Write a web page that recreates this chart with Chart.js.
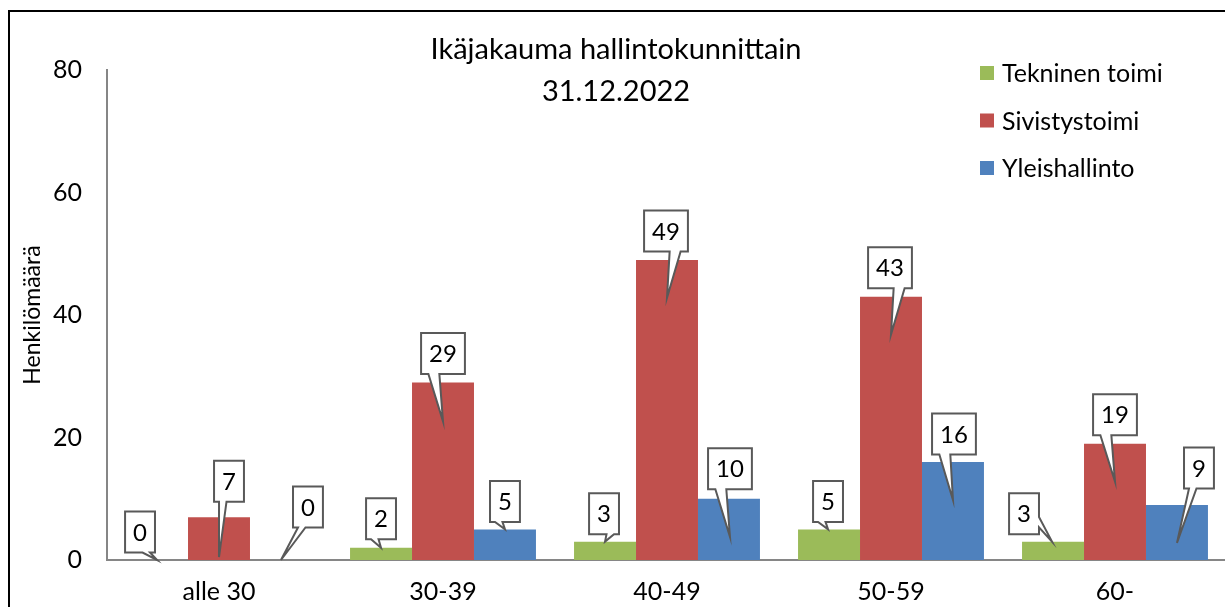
<!DOCTYPE html>
<html>
<head>
<meta charset="utf-8">
<script src="https://cdn.jsdelivr.net/npm/chart.js@4.4.1/dist/chart.umd.min.js"></script>
<style>
  html, body { margin: 0; padding: 0; background: #fff; overflow: hidden; }
  #wrap { position: absolute; left: 0; top: 0; width: 1250px; height: 640px; }
</style>
</head>
<body>
<div id="wrap"><canvas id="kaavio" width="1250" height="640"></canvas></div>
<script>
// Aineisto
const ikaryhmat = ['alle 30', '30-39', '40-49', '50-59', '60-'];
const tekninen = [0, 2, 3, 5, 3];
const sivistys = [7, 29, 49, 43, 19];
const yleishallinto = [0, 5, 10, 16, 9];
const sarjaNimet = ['Tekninen toimi', 'Sivistystoimi', 'Yleishallinto'];
const yAkseliTicks = [0, 20, 40, 60, 80];
const otsikko = ['Ikäjakauma hallintokunnittain', '31.12.2022'];

const varit = ['#9BBB59', '#C0504D', '#4F81BD'];
const fontti = 'Lato, "Open Sans", sans-serif';

// puhekuplien sijoittelu pylvään yläreunan keskeltä: [laatikko dx, dy, kärki dx, dy]
const kuplat = [
    [[-17, -28, 0, 0], [0, -29, 0, 0], [-1, -28, 0, 0], [-1, -28, -1, 0], [-29, -28, -1, 0]],
    [[10, -36, 0, 40], [0, -29, 0, 39], [-1, -29, 0, 38], [-1, -29, 0, 38], [0, -29, 0, 38]],
    [[27, -53, 0, 0], [0, -28, 0, 0], [1, -30, 1, 38], [1, -28, 0, 38], [22, -37, 0, 38]]
];

// Excelin wedgeRectCallout -muoto
function piirraKupla(ctx, cx, cy, w, h, tx, ty) {
    const l = cx - w / 2, r = cx + w / 2, t = cy - h / 2, b = cy + h / 2;
    const dxPos = tx - cx, dyPos = ty - cy;
    const dq = dxPos * h / w;
    const pysty = Math.abs(dyPos) - Math.abs(dq) > 0;
    const x1 = l + w * (dxPos > 0 ? 7 : 2) / 12;
    const x2 = l + w * (dxPos > 0 ? 10 : 5) / 12;
    const y1 = t + h * (dyPos > 0 ? 7 : 2) / 12;
    const y2 = t + h * (dyPos > 0 ? 10 : 5) / 12;
    ctx.beginPath();
    ctx.moveTo(l, t);
    if (pysty && dyPos < 0) { ctx.lineTo(x1, t); ctx.lineTo(tx, ty); ctx.lineTo(x2, t); }
    ctx.lineTo(r, t);
    if (!pysty && dxPos > 0) { ctx.lineTo(r, y1); ctx.lineTo(tx, ty); ctx.lineTo(r, y2); }
    ctx.lineTo(r, b);
    if (pysty && dyPos > 0) { ctx.lineTo(x2, b); ctx.lineTo(tx, ty); ctx.lineTo(x1, b); }
    ctx.lineTo(l, b);
    if (!pysty && dxPos < 0) { ctx.lineTo(l, y2); ctx.lineTo(tx, ty); ctx.lineTo(l, y1); }
    ctx.closePath();
    ctx.fillStyle = '#ffffff';
    ctx.fill();
    ctx.lineWidth = 2;
    ctx.strokeStyle = '#595959';
    ctx.stroke();
}

const kuplaPlugin = {
    id: 'kuplat',
    afterDatasetsDraw(chart) {
        const ctx = chart.ctx;
        ctx.save();
        ctx.font = '24px ' + fontti;
        chart.data.datasets.forEach((ds, i) => {
            const meta = chart.getDatasetMeta(i);
            meta.data.forEach((bar, j) => {
                const o = kuplat[i][j];
                const teksti = String(ds.data[j]);
                const w = ctx.measureText(teksti).width + 16;
                const h = 41;
                const cx = bar.x + o[0], cy = bar.y + o[1];
                piirraKupla(ctx, cx, cy, w, h, bar.x + o[2], bar.y + o[3]);
                ctx.fillStyle = '#000';
                ctx.textAlign = 'center';
                ctx.textBaseline = 'middle';
                ctx.fillText(teksti, cx, cy + 1);
            });
        });
        ctx.restore();
    }
};

const kehysPlugin = {
    id: 'kehys',
    afterDraw(chart) {
        const ctx = chart.ctx;
        ctx.save();
        // kehys
        ctx.strokeStyle = '#000';
        ctx.lineWidth = 2;
        ctx.beginPath();
        ctx.moveTo(9, 700);
        ctx.lineTo(9, 11);
        ctx.lineTo(1300, 11);
        ctx.stroke();
        // otsikko
        ctx.fillStyle = '#000';
        ctx.textAlign = 'center';
        ctx.textBaseline = 'middle';
        ctx.font = '29px ' + fontti;
        ctx.fillText(otsikko[0], 616, 50);
        ctx.fillText(otsikko[1], 616, 92);
        // selite
        ctx.font = '25px ' + fontti;
        ctx.textAlign = 'left';
        chart.data.datasets.forEach((ds, i) => {
            const y = 73 + i * 47.5;
            ctx.fillStyle = ds.backgroundColor;
            ctx.fillRect(980, y - 7, 14, 14);
            ctx.fillStyle = '#000';
            ctx.fillText(ds.label, 1002, y + 1);
        });
        ctx.restore();
    }
};

const ctx = document.getElementById('kaavio').getContext('2d');
new Chart(ctx, {
    type: 'bar',
    data: {
        labels: ikaryhmat,
        datasets: [
            { label: sarjaNimet[0], data: tekninen, backgroundColor: varit[0] },
            { label: sarjaNimet[1], data: sivistys, backgroundColor: varit[1] },
            { label: sarjaNimet[2], data: yleishallinto, backgroundColor: varit[2] }
        ]
    },
    options: {
        responsive: false,
        animation: false,
        categoryPercentage: 0.83,
        barPercentage: 1.0,
        layout: { padding: { top: 70, right: 23, bottom: 0, left: 0 } },
        plugins: {
            legend: { display: false },
            title: { display: false },
            tooltip: { enabled: false }
        },
        scales: {
            x: {
                grid: { display: false, drawTicks: false },
                border: { display: true, color: '#868686', width: 2 },
                ticks: { color: '#000', font: { family: fontti, size: 25 }, padding: 17 },
                afterFit(scale) { scale.height = 80; }
            },
            y: {
                min: 0,
                max: 80,
                afterBuildTicks(scale) { scale.ticks = yAkseliTicks.map(v => ({ value: v })); },
                grid: { display: false, drawTicks: false },
                border: { display: true, color: '#868686', width: 2 },
                ticks: { color: '#000', font: { family: fontti, size: 25 }, padding: 25 },
                title: {
                    display: true,
                    text: 'Henkilömäärä',
                    color: '#000',
                    font: { family: fontti, size: 23, weight: 'normal' },
                    padding: { top: 19, bottom: 0 }
                },
                afterFit(scale) { scale.width = 107; }
            }
        }
    },
    plugins: [kuplaPlugin, kehysPlugin]
});
</script>
</body>
</html>
